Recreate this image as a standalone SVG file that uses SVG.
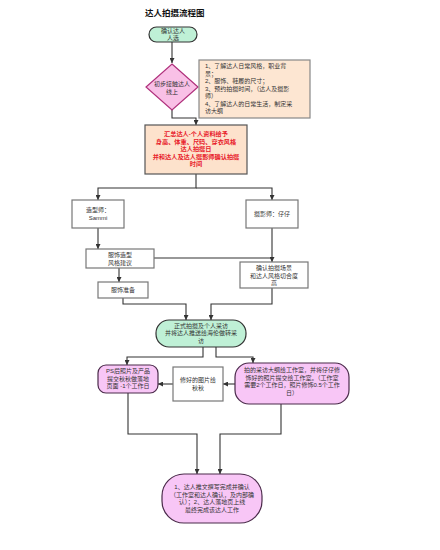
<svg xmlns="http://www.w3.org/2000/svg" width="440" height="550" viewBox="0 0 440 550">
<style>
text{font-family:"Liberation Sans","Noto Sans CJK SC",sans-serif;font-size:6px;fill:#333;text-anchor:middle}
.title{font-size:8.5px;font-weight:bold;fill:#111;text-anchor:start}
.left{text-anchor:start}
.red{fill:#e8202a;font-size:6.2px;font-weight:bold}
.green{fill:#bff0d6;stroke:#333;stroke-width:1.2}
.pink{fill:#f8c6f6;stroke:#4a2a4a;stroke-width:1.2}
.dia{fill:#f9c0e6;stroke:#b0307c;stroke-width:1.2}
.note{fill:#fde6d2;stroke:#888;stroke-width:1.2}
.orange{fill:#fde2cc;stroke:#555;stroke-width:1.2}
.box{fill:#fff;stroke:#777;stroke-width:1.2}
.conn path{fill:none;stroke:#333;stroke-width:1.1}
</style>
<defs>
<marker id="arr" viewBox="0 0 10 10" refX="10" refY="5" markerWidth="5" markerHeight="5" orient="auto" markerUnits="userSpaceOnUse">
<path d="M0,0 L10,5 L0,10 z" fill="#333"/>
</marker>
</defs>
<rect width="440" height="550" fill="#fff"/>
<text class="title" x="145" y="15.5">达人拍摄流程图</text>

<g class="conn">
<path d="M172,42 V63" marker-end="url(#arr)"/>
<path d="M172,110 V118 H196 V125" marker-end="url(#arr)"/>
<path d="M196,174 V188 H98 V200" marker-end="url(#arr)"/>
<path d="M196,188 H272 V200" marker-end="url(#arr)"/>
<path d="M98,228 V249" marker-end="url(#arr)"/>
<path d="M119,268 V282" marker-end="url(#arr)"/>
<path d="M272,228 V262" marker-end="url(#arr)"/>
<path d="M154,258 H272"/>
<path d="M123,298 V304 H186 V320" marker-end="url(#arr)"/>
<path d="M272,288 V304 H211 V320" marker-end="url(#arr)"/>
<path d="M203,347 V357 H127 V365" marker-end="url(#arr)"/>
<path d="M216,347 V357 H253 V363" marker-end="url(#arr)"/>
<path d="M235,384 H223" marker-end="url(#arr)"/>
<path d="M173,384 H158" marker-end="url(#arr)"/>
<path d="M128,393 V434 H197 V474" marker-end="url(#arr)"/>
<path d="M281,404 V434 H220 V474" marker-end="url(#arr)"/>
</g>

<g id="start">
<rect class="green" x="149" y="27" width="48" height="15" rx="7.5"/>
<text x="173" y="33.2">确认达人</text>
<text x="173" y="40.2">人选</text>
</g>

<g id="contact">
<polygon class="dia" points="172,64 198,87 172,110 146,87"/>
<text x="172" y="86">初步接触达人</text>
<text x="172" y="93.5">线上</text>
</g>

<g id="note">
<rect class="note" x="199" y="60" width="111" height="58"/>
<text class="left" x="205" y="68">1、了解达人日常风格，职业背</text>
<text class="left" x="205" y="75.5">景；</text>
<text class="left" x="205" y="83">2、服饰、鞋履的尺寸；</text>
<text class="left" x="205" y="90.5">3、预约拍摄时间，（达人及摄影</text>
<text class="left" x="205" y="98">师）</text>
<text class="left" x="205" y="105.5">4、了解达人的日常生活，制定采</text>
<text class="left" x="205" y="113">访大纲</text>
</g>

<g id="summary">
<rect class="orange" x="145" y="125" width="102" height="49"/>
<text class="red" x="196" y="136">汇总达人-个人资料给予</text>
<text class="red" x="196" y="143.5">身高、体重、尺码、穿衣风格</text>
<text class="red" x="196" y="151">达人拍摄日</text>
<text class="red" x="196" y="158.5">并和达人及达人摄影师确认拍摄</text>
<text class="red" x="196" y="166">时间</text>
</g>

<g id="stylist">
<rect class="box" x="72" y="200" width="52" height="28"/>
<text x="98" y="212">造型师：</text>
<text x="98" y="220">Sammi</text>
</g>

<g id="photographer">
<rect class="box" x="246" y="200" width="52" height="28"/>
<text x="272" y="216">摄影师：仔仔</text>
</g>

<g id="style-advice">
<rect class="box" x="86" y="249" width="68" height="19"/>
<text x="120" y="257">服饰造型</text>
<text x="120" y="264.5">风格建议</text>
</g>

<g id="scene">
<rect class="box" x="240" y="262" width="68" height="26"/>
<text x="274" y="270">确认拍摄场景</text>
<text x="274" y="277.5">和达人风格切合度</text>
<text x="274" y="285">高</text>
</g>

<g id="prep">
<rect class="box" x="98" y="282" width="50" height="16"/>
<text x="123" y="292">服饰准备</text>
</g>

<g id="shoot">
<rect class="green" x="156" y="320" width="90" height="27" rx="13"/>
<text x="201" y="328">正式拍摄及个人采访</text>
<text x="201" y="335.3">并将达人推送给海伦做转采</text>
<text x="201" y="342.6">访</text>
</g>

<g id="landing">
<rect class="pink" x="98" y="365" width="60" height="28" rx="8"/>
<text x="128" y="373">PS后照片及产品</text>
<text x="128" y="380.5">提交秋秋做落地</text>
<text x="128" y="388">页面 -1个工作日</text>
</g>

<g id="retouched">
<rect class="box" x="173" y="367" width="50" height="34"/>
<text x="198" y="382">修好的图片给</text>
<text x="198" y="389.5">秋秋</text>
</g>

<g id="studio">
<rect class="pink" x="235" y="363" width="114" height="41" rx="14"/>
<text x="292" y="372">拍的采访大纲给工作室，并将仔仔修</text>
<text x="292" y="379.5">饰好的照片提交给工作室。（工作室</text>
<text x="292" y="387">需要2个工作日，照片修饰0.5个工作</text>
<text x="292" y="394.5">日）</text>
</g>

<g id="finish">
<rect class="pink" x="162" y="474" width="100" height="49" rx="22"/>
<text x="212" y="489">1、达人推文撰写完成并确认</text>
<text x="212" y="496.5">（工作室和达人确认，及内部确</text>
<text x="212" y="504">认）；2、达人落地页上线</text>
<text x="212" y="511.5">最终完成该达人工作</text>
</g>
</svg>
